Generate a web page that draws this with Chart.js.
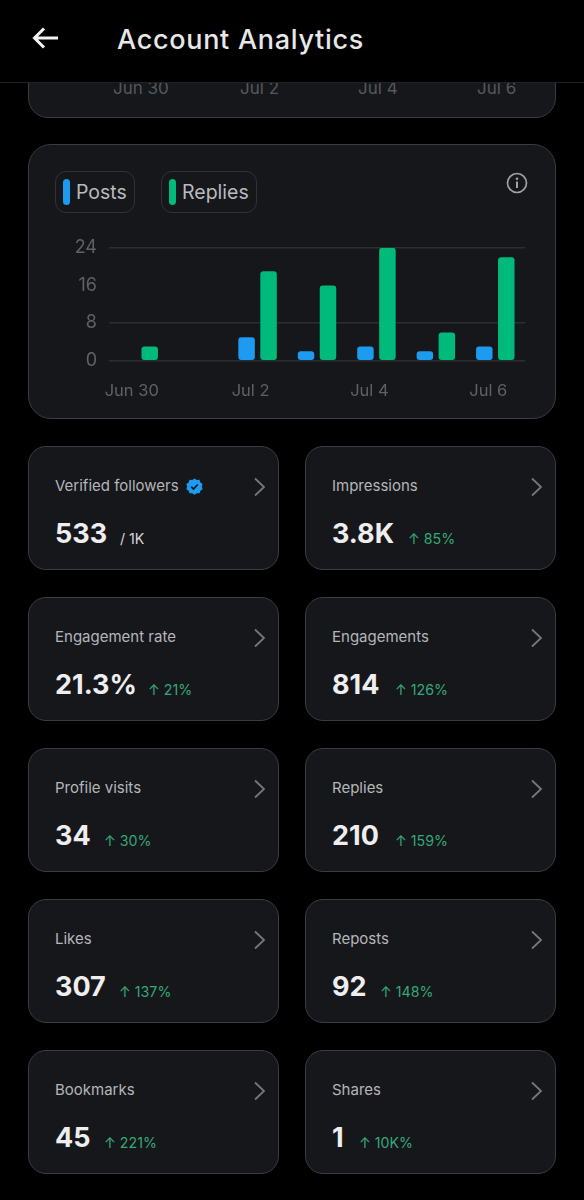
<!DOCTYPE html>
<html><head><meta charset="utf-8">
<script src="https://cdn.jsdelivr.net/npm/chart.js@4"></script>
<style>
html,body{margin:0;padding:0;background:#000;width:584px;height:1200px;overflow:hidden;font-family:Inter,"Noto Sans",sans-serif}
.abs{position:absolute}
.card{position:absolute;box-sizing:border-box;background:#16171b;border:1.5px solid #3a3c41}
.hdr{position:absolute;left:0;top:0;width:584px;height:82px;background:#000;border-bottom:1px solid #212226;z-index:3}
.t{position:absolute;white-space:nowrap}
.chip{position:absolute;box-sizing:border-box;top:171px;height:42px;border:1.5px solid #303237;border-radius:11px}
.chip i{position:absolute;left:7px;top:7px;width:7px;height:26px;border-radius:4px}
.chip span{position:absolute;left:20px;top:8px;font-size:19.5px;line-height:24px;color:#b9bbbe}
.lab{font-size:15px;line-height:20px;color:#b4b6b9;left:26px;top:29px}
.val{font-size:27px;line-height:34px;font-weight:700;color:#eeeeef;left:26px;top:70px}
.dlt{font-size:14.200px;line-height:20px;color:#35a878;top:82px}
.old{font-size:17px;line-height:22px;color:#55575b;top:77px}
</style></head><body>
<div class="card" style="left:28px;top:60px;width:528px;height:58px;border-radius:20px"></div>
<div class="t old" style="left:113px">Jun 30</div>
<div class="t old" style="left:240px">Jul 2</div>
<div class="t old" style="left:358px">Jul 4</div>
<div class="t old" style="left:477px">Jul 6</div>
<div class="hdr">
<svg class="abs" style="left:30px;top:24px" width="32" height="28" viewBox="0 0 32 28"><path d="M28 14H5M14 4.500L4.500 14L14 23.500" fill="none" stroke="#f2f2f2" stroke-width="3"/></svg>
<div class="t" style="left:117px;top:23px;font-size:27px;line-height:34px;font-weight:500;color:#e7e7e8;letter-spacing:.7px">Account Analytics</div>
</div>
<div class="card" style="left:28px;top:144px;width:528px;height:275px;border-radius:23px"></div>
<div class="chip" style="left:55px;width:80px"><i style="background:#1d9bf0"></i><span>Posts</span></div>
<div class="chip" style="left:161px;width:96px"><i style="background:#00ba7c"></i><span>Replies</span></div>
<svg class="abs" style="left:505.500px;top:172px" width="22" height="22" viewBox="0 0 22 22"><circle cx="11" cy="11" r="9.500" fill="none" stroke="#a0a2a6" stroke-width="1.700"/><circle cx="11" cy="6.800" r="1.300" fill="#a0a2a6"/><rect x="10" y="9.500" width="2" height="6.500" fill="#a0a2a6"/></svg>
<div class="abs" style="left:28px;top:225px;width:528px;height:185px"><canvas id="c" width="528" height="185"></canvas></div>
<div id="grid"></div>
<script>
const categories=["Jun 30","Jul 1","Jul 2","Jul 3","Jul 4","Jul 5","Jul 6"];
const posts=[0,0,5,2,3,2,3];
const replies=[3,0,19,16,24,6,22];
const yTicks=[0,8,16,24];
const metricLabels=["Verified followers","Impressions","Engagement rate","Engagements","Profile visits","Replies","Likes","Reposts","Bookmarks","Shares"];
const metricValues=["533","3.8K","21.3%","814","34","210","307","92","45","1"];
const metricDeltas=["/ 1K","85%","21%","126%","30%","159%","137%","148%","221%","10K%"];
const deltaLeft=[91,102,119,89,75,89,90,74,75,53];

const cols=[[28,251],[305,251]], rows=[446,597,748,899,1050];
const g=document.getElementById('grid');
metricLabels.forEach((l,i)=>{
  const c=cols[i%2], y=rows[Math.floor(i/2)];
  const d=document.createElement('div');
  d.className='card';
  d.style.cssText=`left:${c[0]}px;top:${y}px;width:${c[1]}px;height:124px;border-radius:18px`;
  let dh;
  if(i===0) dh=`<div class="t dlt" style="left:${deltaLeft[i]}px;color:#d8d8da">${metricDeltas[i]}</div>`;
  else dh=`<div class="t dlt" style="left:${deltaLeft[i]}px">↑ ${metricDeltas[i]}</div>`;
  d.innerHTML=`<div class="t lab">${l}</div><div class="t val">${metricValues[i]}</div>${dh}
  <svg class="abs" style="left:222.500px;top:29px" width="16" height="22" viewBox="0 0 16 22"><path d="M3 2.500L12 11L3 19.500" fill="none" stroke="#75777b" stroke-width="1.800"/></svg>`+
  (i===0?`<svg class="abs" style="left:157px;top:31px" width="17" height="17" viewBox="0 0 17 17"><path d="M8.500 0.500l2.300 1.500 2.700-.2.900 2.600 2.200 1.600-.8 2.600.8 2.600-2.200 1.500-.9 2.600-2.700-.1-2.300 1.500-2.300-1.500-2.700.1-.9-2.600-2.200-1.500.8-2.600-.8-2.600 2.200-1.600.9-2.600 2.700.2z" fill="#1d9bf0"/><path d="M5.200 8.700l2.300 2.300 4.200-4.500" fill="none" stroke="#10141a" stroke-width="1.700"/></svg>`:'');
  g.appendChild(d);
});

new Chart(document.getElementById('c'),{
  type:'bar',
  data:{labels:categories,datasets:[
    {label:'Posts',data:posts,backgroundColor:'#1d9bf0',borderRadius:3,borderSkipped:false,categoryPercentage:.74,barPercentage:.75},
    {label:'Replies',data:replies,backgroundColor:'#00ba7c',borderRadius:3,borderSkipped:false,categoryPercentage:.74,barPercentage:.75}
  ]},
  options:{
    responsive:false,animation:false,devicePixelRatio:1,
    layout:{padding:{top:6.500,right:31,left:0,bottom:0}},
    plugins:{legend:{display:false},tooltip:{enabled:false}},
    scales:{
      x:{grid:{display:false},border:{display:false},
        afterFit(s){s.height=49.3},
        ticks:{autoSkip:false,maxRotation:0,labelOffset:-7,padding:12,color:'#5f6165',font:{family:'Inter',size:16.5},
          callback(v,i){return i%2===0?categories[i]:''}}},
      y:{min:0,max:24,
        afterBuildTicks(s){s.ticks=yTicks.map(v=>({value:v}))},
        afterFit(s){s.width=81},
        border:{display:false},
        grid:{drawTicks:false,lineWidth:1.5,color(ctx){return ctx.tick&&ctx.tick.value===16?'rgba(0,0,0,0)':'#2c2e33'}},
        ticks:{padding:12,color:'#5f6165',font:{family:'Inter',size:18}}}
    }
  }
});
</script>
</body></html>
